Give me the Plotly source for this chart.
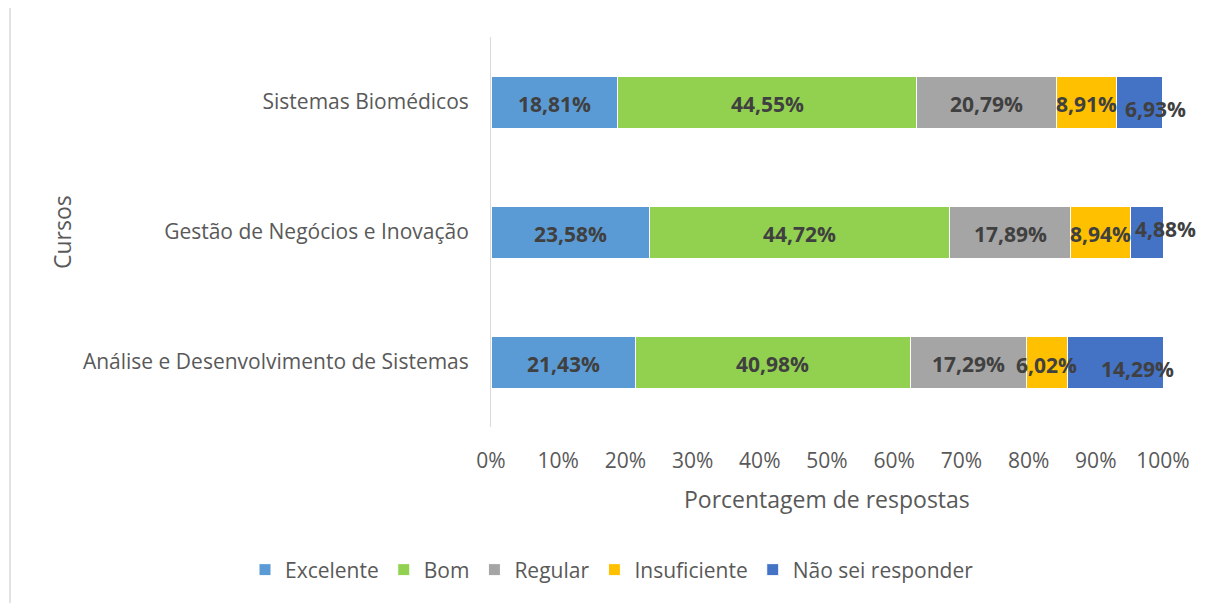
import plotly.graph_objects as go

categories = ["Análise e Desenvolvimento de Sistemas", "Gestão de Negócios e Inovação", "Sistemas Biomédicos"]
series_names = ["Excelente", "Bom", "Regular", "Insuficiente", "Não sei responder"]
excelente = [21.43, 23.58, 18.81]
bom = [40.98, 44.72, 44.55]
regular = [17.29, 17.89, 20.79]
insuficiente = [6.02, 8.94, 8.91]
nao_sei = [14.29, 4.88, 6.93]
colors = ["#5B9BD5", "#92D050", "#A5A5A5", "#FFC000", "#4472C4"]
x_ticks = [0, 10, 20, 30, 40, 50, 60, 70, 80, 90, 100]
x_tick_labels = [f"{t}%" for t in x_ticks]

# label nudges (pixels) per series, as in the original chart
label_xshift = [[0, 0, 0], [0, 0, 0], [0, 0, 0], [0, 0, 0], [22, 19, 16]]
label_yshift = [[-2, -2, -2], [-2, -2, -2], [-2, -2, -2], [-3, -2, -2], [-7, 3, -7]]

FONT = "Open Sans"
series = [excelente, bom, regular, insuficiente, nao_sei]

OFF = 8  # body margin of the html page
W, H = 1222, 603
L, R, T, B = 491 - OFF, 59 + OFF, 37 - OFF, 176 + OFF
pw, ph = W - L - R, H - T - B


def px_x(px):
    return (px - OFF - L) / pw


def px_y(py):
    return (H - B - (py - OFF)) / ph


fig = go.Figure()
for name, vals, col in zip(series_names, series, colors):
    fig.add_trace(go.Bar(
        y=categories, x=vals, name=name, orientation="h",
        marker=dict(color=col, line=dict(color="white", width=1)),
        hoverinfo="skip",
    ))

# data labels centered on each segment (from cumulative sums)
cum = [0.0] * len(categories)
for si, vals in enumerate(series):
    for ci, v in enumerate(vals):
        fig.add_annotation(
            x=cum[ci] + v / 2, y=categories[ci], xref="x", yref="y",
            text=f"{v:.2f}%".replace(".", ","), showarrow=False,
            xanchor="center", yanchor="middle",
            xshift=label_xshift[si][ci], yshift=label_yshift[si][ci],
            font=dict(family=FONT, size=21, color="#404040", weight="bold"),
        )
        cum[ci] += v

fig.update_layout(
    barmode="stack", bargap=0.6,
    width=W, height=H,
    margin=dict(l=L, r=R, t=T, b=B, autoexpand=False),
    paper_bgcolor="white", plot_bgcolor="white",
    font=dict(family=FONT, color="#595959", size=21),
    xaxis=dict(range=[0, 100], tickvals=x_ticks, ticktext=x_tick_labels,
               showgrid=False, zeroline=False, showline=False,
               ticklabelstandoff=19, automargin=False,
               tickfont=dict(family=FONT, size=21, color="#595959")),
    yaxis=dict(showgrid=False, zeroline=False, showline=True, linecolor="#D9D9D9",
               linewidth=1, ticks="", ticklabelstandoff=17, automargin=False,
               tickfont=dict(family=FONT, size=21, color="#595959")),
    legend=dict(orientation="h", xref="paper", yref="paper",
                x=px_x(245), xanchor="left",
                y=px_y(570), yanchor="middle",
                font=dict(family=FONT, size=21, color="#595959"),
                traceorder="normal", itemclick=False),
    showlegend=True,
)
fig.add_annotation(text="Porcentagem de respostas", xref="paper", yref="paper",
                   x=px_x(827), y=px_y(499), showarrow=False,
                   xanchor="center", yanchor="middle",
                   font=dict(family=FONT, size=23, color="#595959"))
fig.add_annotation(text="Cursos", xref="paper", yref="paper",
                   x=px_x(62), y=px_y(232), showarrow=False, textangle=-90,
                   xanchor="center", yanchor="middle",
                   font=dict(family=FONT, size=23, color="#595959"))
fig.add_shape(type="rect", xref="paper", yref="paper",
              x0=px_x(10), x1=px_x(1218),
              y0=px_y(620), y1=px_y(7),
              line=dict(color="#D9D9D9", width=1.5), fillcolor="rgba(0,0,0,0)", layer="below")

fig.write_html("out.html")
